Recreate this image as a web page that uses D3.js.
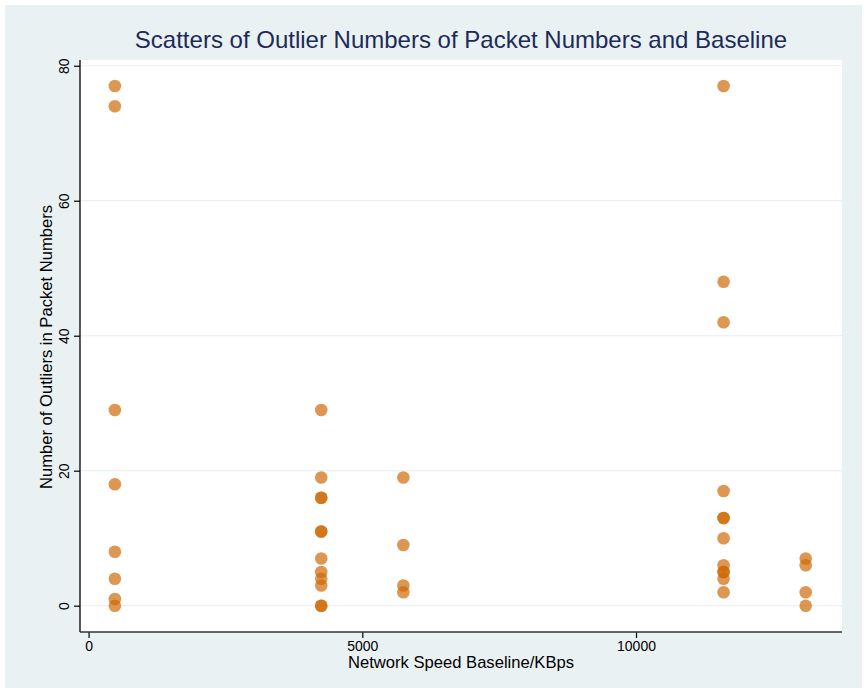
<!DOCTYPE html>
<html>
<head>
<meta charset="utf-8">
<script src="https://cdn.jsdelivr.net/npm/d3@7"></script>
<style>
  html, body { margin: 0; padding: 0; background: #ffffff; }
  svg { display: block; font-family: "Liberation Sans", Arial, sans-serif; }
</style>
</head>
<body>
<svg id="chart" width="865" height="692"></svg>
<script>
// Network speed baseline (KBps) for each observation
const baselines = [
  480, 480, 480, 480, 480, 480, 480, 480,
  4250, 4250, 4250, 4250, 4250, 4250, 4250, 4250, 4250, 4250, 4250, 4250,
  5750, 5750, 5750, 5750,
  11600, 11600, 11600, 11600, 11600, 11600, 11600, 11600, 11600, 11600, 11600, 11600,
  13100, 13100, 13100, 13100
];
// Number of outliers in packet numbers for each observation
const outliers = [
  77, 74, 29, 18, 8, 4, 1, 0,
  29, 19, 16, 16, 11, 11, 7, 5, 4, 3, 0, 0,
  19, 9, 3, 2,
  77, 48, 42, 17, 13, 13, 10, 6, 5, 5, 4, 2,
  7, 6, 2, 0
];
const xTicks = [0, 5000, 10000];
const yTicks = [0, 20, 40, 60, 80];
const xDomain = [-157, 13763];
const yDomain = [-3.9, 80.85];

const titleText = "Scatters of Outlier Numbers of Packet Numbers and Baseline";
const xTitle = "Network Speed Baseline/KBps";
const yTitle = "Number of Outliers in Packet Numbers";

const svg = d3.select("#chart");
const bg = "#eaf1f3";

// Graph region
svg.append("rect").attr("x", 5).attr("y", 5).attr("width", 857).attr("height", 683).attr("fill", bg);

const plot = { left: 80, right: 842, top: 60, bottom: 632 };

// Plot region
svg.append("rect")
  .attr("x", plot.left).attr("y", plot.top)
  .attr("width", plot.right - plot.left).attr("height", plot.bottom - plot.top)
  .attr("fill", "#ffffff");

const x = d3.scaleLinear().domain(xDomain).range([plot.left, plot.right]);
const y = d3.scaleLinear().domain(yDomain).range([plot.bottom, plot.top]);

// Horizontal grid lines
svg.append("g").selectAll("line").data(yTicks).join("line")
  .attr("x1", plot.left).attr("x2", plot.right)
  .attr("y1", d => y(d)).attr("y2", d => y(d))
  .attr("stroke", "#eaf2f3").attr("stroke-width", 1.2);

// Y axis
const yAxis = svg.append("g")
  .attr("transform", `translate(${plot.left},0)`)
  .call(d3.axisLeft(y).tickValues(yTicks).tickSize(6).tickPadding(5).tickSizeOuter(0));
yAxis.select(".domain").remove();
yAxis.append("line").attr("x1", 0).attr("x2", 0).attr("y1", plot.top).attr("y2", plot.bottom)
  .attr("stroke", "#000").attr("stroke-width", 1.3);
yAxis.selectAll(".tick line").attr("stroke", "#000").attr("stroke-width", 1.2);
yAxis.selectAll(".tick text")
  .attr("fill", "#000").attr("font-size", 14)
  .attr("text-anchor", "middle")
  .attr("x", 0).attr("y", 0).attr("dy", "0")
  .attr("transform", "translate(-11,0) rotate(-90)");

// X axis
const xAxis = svg.append("g")
  .attr("transform", `translate(0,${plot.bottom})`)
  .call(d3.axisBottom(x).tickValues(xTicks).tickFormat(d3.format("d")).tickSize(6).tickPadding(3).tickSizeOuter(0));
xAxis.select(".domain").remove();
xAxis.append("line").attr("x1", plot.left).attr("x2", plot.right).attr("y1", 0).attr("y2", 0)
  .attr("stroke", "#333").attr("stroke-width", 1.6);
xAxis.selectAll(".tick line").attr("stroke", "#000").attr("stroke-width", 1.2);
xAxis.selectAll(".tick text").attr("fill", "#000").attr("font-size", 14);

// Points
const data = baselines.map((b, i) => ({ b, o: outliers[i] }));
svg.append("g").selectAll("circle").data(data).join("circle")
  .attr("cx", d => x(d.b)).attr("cy", d => y(d.o))
  .attr("r", 6.3)
  .attr("fill", "rgb(206,104,4)")
  .attr("fill-opacity", 0.69);

// Titles
svg.append("text")
  .attr("x", 461).attr("y", 48)
  .attr("text-anchor", "middle")
  .attr("font-size", 24)
  .attr("fill", "#1c2b59")
  .text(titleText);

svg.append("text")
  .attr("x", (plot.left + plot.right) / 2 - 0).attr("y", 668)
  .attr("text-anchor", "middle")
  .attr("font-size", 16.6)
  .attr("fill", "#000")
  .text(xTitle);

svg.append("text")
  .attr("transform", `translate(52,${(plot.top + plot.bottom) / 2 + 1}) rotate(-90)`)
  .attr("text-anchor", "middle")
  .attr("font-size", 16.6)
  .attr("fill", "#000")
  .text(yTitle);
</script>
</body>
</html>
